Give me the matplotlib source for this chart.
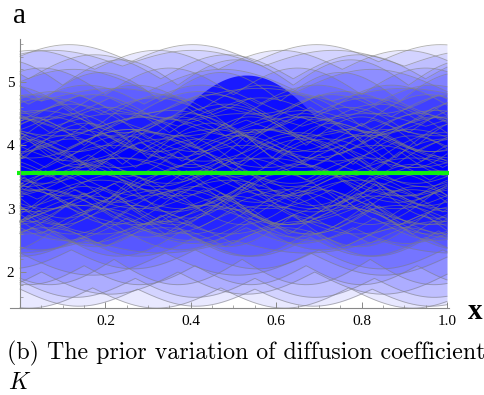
import numpy as np
import matplotlib
matplotlib.use("Agg")
import matplotlib.pyplot as plt
from matplotlib.ticker import MultipleLocator

# Stichproben der Prior-Verteilung von K: (Basis, Amplitude, Periode, Phase)
# Kurve: Basis + Amplitude * |sin(pi * (x - Phase) / Periode)|
upper_curves = [
    (5.32, 0.27, 0.29, -0.03),
    (5.20, 0.30, 0.29, 0.175),
    (5.25, 0.25, 0.33, 0.24),
    (5.05, 0.38, 0.31, 0.02),
    (4.95, 0.40, 0.27, 0.10),
    (4.85, 0.35, 0.35, 0.30),
    (4.80, 0.42, 0.30, 0.20),
    (4.70, 0.45, 0.28, 0.05),
]
lower_curves = [
    (1.73, -0.27, 0.275, 0.00),
    (1.75, -0.32, 0.30, 0.17),
    (1.90, -0.30, 0.28, 0.27),
    (2.00, -0.35, 0.32, 0.05),
    (2.10, -0.30, 0.26, 0.15),
    (2.20, -0.40, 0.30, 0.22),
    (2.30, -0.35, 0.34, 0.00),
    (2.35, -0.30, 0.29, 0.12),
]
core_curves = [
    (4.55, 0.40, 0.30, 0.12), (4.40, 0.45, 0.34, 0.25), (4.65, 0.30, 0.27, 0.02),
    (4.30, 0.50, 0.31, 0.18), (4.20, 0.40, 0.28, 0.07), (4.75, -0.35, 0.33, 0.21),
    (4.60, -0.40, 0.29, 0.10), (4.10, 0.55, 0.36, 0.30), (4.00, 0.45, 0.26, 0.15),
    (4.45, -0.30, 0.31, 0.04), (3.95, 0.50, 0.30, 0.22), (3.85, 0.40, 0.33, 0.09),
    (4.50, 0.25, 0.25, 0.19), (4.25, -0.35, 0.28, 0.27), (3.80, 0.55, 0.29, 0.01),
    (4.15, 0.30, 0.35, 0.13), (3.70, 0.45, 0.27, 0.24), (4.35, -0.45, 0.32, 0.16),
    (3.65, 0.35, 0.31, 0.06), (4.05, -0.30, 0.30, 0.28), (3.90, -0.40, 0.26, 0.11),
    (4.70, 0.20, 0.34, 0.05), (3.75, -0.35, 0.29, 0.20), (4.80, -0.30, 0.28, 0.14),
    (3.60, 0.50, 0.33, 0.17),
    (4.45, 0.35, 0.28, 0.03), (4.20, -0.40, 0.33, 0.19), (3.95, 0.30, 0.30, 0.11),
    (4.05, 0.45, 0.27, 0.26), (3.80, -0.45, 0.31, 0.17), (4.30, 0.20, 0.29, 0.08),
    (3.70, 0.50, 0.34, 0.14), (4.15, -0.50, 0.26, 0.01), (3.90, 0.35, 0.32, 0.29),
    (4.40, -0.25, 0.30, 0.23), (3.75, 0.40, 0.28, 0.10), (4.00, -0.35, 0.35, 0.05),
    (4.25, 0.30, 0.31, 0.20), (3.85, -0.30, 0.27, 0.16), (3.65, 0.45, 0.30, 0.27),
    (2.65, -0.40, 0.30, 0.08), (2.80, -0.45, 0.33, 0.21), (2.55, -0.30, 0.27, 0.14),
    (2.90, -0.50, 0.31, 0.02), (3.00, -0.40, 0.28, 0.26), (2.45, 0.35, 0.32, 0.18),
    (2.60, 0.40, 0.29, 0.05), (3.10, -0.55, 0.35, 0.12), (3.20, -0.45, 0.26, 0.23),
    (2.75, 0.30, 0.30, 0.29), (3.25, -0.50, 0.30, 0.07), (3.35, -0.40, 0.33, 0.19),
    (2.70, -0.25, 0.25, 0.03), (2.95, 0.35, 0.28, 0.15), (3.40, -0.55, 0.29, 0.25),
    (3.05, -0.30, 0.35, 0.10), (3.50, -0.45, 0.27, 0.01), (2.85, 0.45, 0.32, 0.22),
    (3.55, -0.35, 0.31, 0.13), (3.15, 0.30, 0.30, 0.04), (3.30, 0.40, 0.26, 0.27),
    (2.50, -0.20, 0.34, 0.16), (3.45, 0.35, 0.29, 0.09), (2.40, 0.30, 0.28, 0.20),
    (3.60, -0.50, 0.33, 0.06),
    (3.40, -0.40, 0.31, 0.22), (3.20, 0.35, 0.28, 0.09), (3.05, -0.45, 0.33, 0.18),
    (2.95, 0.40, 0.26, 0.02), (3.30, -0.30, 0.30, 0.13), (2.85, -0.35, 0.29, 0.25),
    (3.50, 0.30, 0.34, 0.07), (3.10, 0.45, 0.27, 0.21), (2.70, 0.35, 0.31, 0.11),
    (3.35, 0.25, 0.28, 0.28), (2.90, -0.30, 0.30, 0.04), (3.25, -0.50, 0.32, 0.15),
    (3.00, 0.30, 0.29, 0.19), (2.80, 0.40, 0.33, 0.00), (3.45, -0.25, 0.26, 0.24),
]
# dunkler Buckel in der Mitte
hump_center = 0.53
hump_halfwidth = 0.25
hump_base = 3.70
hump_peak = 5.11

k_mean = 3.56

x_ticks = [0.2, 0.4, 0.6, 0.8, 1.0]
y_ticks = [2, 3, 4, 5]

x = np.linspace(0, 1, 800)


def curve(base, amp, period, phase):
    return base + amp * np.abs(np.sin(np.pi * (x - phase) / period))


fig = plt.figure(figsize=(4.84, 3.95), dpi=100)
ax = fig.add_axes([10 / 484, 1 - 308 / 395, 439 / 484, 269 / 395])
ax.set_xlim(-0.0234, 1.0047)
ax.set_ylim(1.4316, 5.679)

all_curves = upper_curves + lower_curves + core_curves
ys = [curve(*c) for c in all_curves]

for y in ys:
    ax.fill_between(x, y, k_mean, color="#0000ff", alpha=0.09, lw=0)

hx = np.linspace(hump_center - hump_halfwidth, hump_center + hump_halfwidth, 300)
hy = hump_base + (hump_peak - hump_base) * np.sin(np.pi * (hx - hump_center + hump_halfwidth) / (2 * hump_halfwidth))
ax.fill_between(hx, hy, k_mean, color="#0000ff", alpha=0.8, lw=0)

for y in ys:
    ax.plot(x, y, color="#808080", alpha=0.6, lw=0.65)

ax.plot([-0.008, 1.004], [k_mean, k_mean], color="#11ee11", lw=3.0, solid_capstyle="butt")

# Achsen im Mathematica-Stil
for s in ["top", "right"]:
    ax.spines[s].set_visible(False)
ax.spines["left"].set_position(("data", 0))
for s in ["left", "bottom"]:
    ax.spines[s].set_color("#888888")
    ax.spines[s].set_linewidth(0.8)
ax.set_xticks(x_ticks)
ax.set_xticklabels([f"{t:.1f}" for t in x_ticks])
ax.set_yticks(y_ticks)
ax.xaxis.set_minor_locator(MultipleLocator(0.05))
ax.yaxis.set_minor_locator(MultipleLocator(0.2))
ax.tick_params(which="both", direction="in", color="#888888", labelsize=11,
               labelfontfamily="Liberation Serif")
ax.tick_params(which="major", length=4, width=0.7)
ax.tick_params(which="minor", length=2, width=0.5)
ax.tick_params(axis="x", pad=5)
ax.tick_params(axis="y", pad=4)

fig.text(13 / 484, 1 - 22.7 / 395, "a", family="Liberation Serif", fontsize=21, va="baseline")
fig.text(468 / 484, 1 - 319 / 395, "x", family="Liberation Serif", weight="bold",
         fontsize=21, va="baseline")
fig.text(7 / 484, 1 - 359 / 395, "(b) The prior variation of diffusion coefficient",
         family="cmr10", fontsize=17.2, va="baseline")
fig.text(8 / 484, 1 - 389 / 395, "K", family="cmmi10", fontsize=17.2, va="baseline")

plt.savefig("out.png", dpi=100)
